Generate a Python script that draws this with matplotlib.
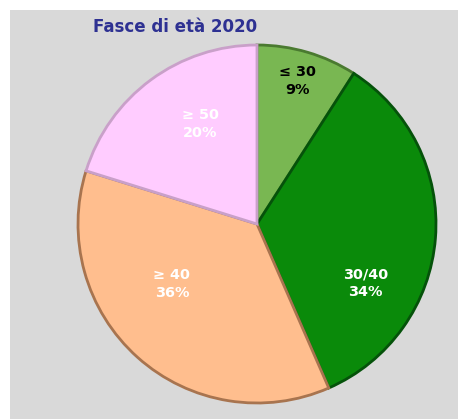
import matplotlib
matplotlib.use("Agg")
import matplotlib.pyplot as plt
from matplotlib.patches import Rectangle

plt.rcParams['font.family'] = ['DejaVu Sans']

# dati
fasce = ['\u2264 30', '30/40', '\u2265 40', '\u2265 50']
percentuali = [9, 34, 36, 20]
colori = ['#79b752', '#0a8a0a', '#ffbe8e', '#ffccff']
bordi = ['#4a7a30', '#05520a', '#a8744f', '#c9a0c9']
colori_testo = ['black', 'white', 'white', 'white']
# posizione etichette (unita' del raggio)
pos_etichette = [(0.224, 0.80), (0.606, -0.33), (-0.475, -0.335), (-0.316, 0.559)]

W, H = 458, 419
fig = plt.figure(figsize=(W / 100, H / 100), dpi=100)
fig.patch.set_facecolor('white')
fig.patches.append(Rectangle((10 / W, 0), 1 - 10 / W, 1 - 10 / H,
                             transform=fig.transFigure, facecolor='#d9d9d9',
                             edgecolor='none', zorder=-1))

cx, cy, r = 257, 224, 179
ax = fig.add_axes([(cx - r) / W, (H - cy - r) / H, 2 * r / W, 2 * r / H])
ax.set_facecolor('none')

wedges, _ = ax.pie(percentuali, colors=colori, startangle=90, counterclock=False,
                   wedgeprops=dict(linewidth=2))
for w, b in zip(wedges, bordi):
    w.set_edgecolor(b)
    w.set_clip_on(False)

for (x, y), nome, p, c in zip(pos_etichette, fasce, percentuali, colori_testo):
    ax.text(x, y, f'{nome}\n{p}%', ha='center', va='center', color=c,
            fontsize=10.4, fontweight='bold', linespacing=1.32)

ax.set_xlim(-1, 1)
ax.set_ylim(-1, 1)
ax.set_aspect('equal')
ax.axis('off')

fig.text(93 / W, 1 - 27 / H, 'Fasce di et\u00e0 2020', ha='left', va='center',
         color='#2e3192', fontsize=12, fontweight='bold')

fig.savefig('out.png', dpi=100)
